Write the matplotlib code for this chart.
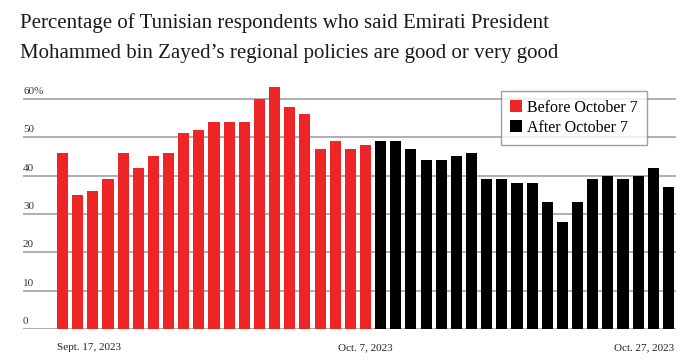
import numpy as np
import matplotlib
matplotlib.use("Agg")
import matplotlib.pyplot as plt
from matplotlib.patches import Patch

plt.rcParams['font.family'] = ['Liberation Serif', 'DejaVu Serif']

# values (percent)
before_vals = [46, 35, 36, 39, 46, 42, 45, 46, 51, 52, 54, 54, 54, 60, 63, 58, 56, 47, 49, 47, 48]
after_vals = [49, 49, 47, 44, 44, 45, 46, 39, 39, 38, 38, 33, 28, 33, 39, 40, 39, 40, 42, 37]
y_ticks = [0, 10, 20, 30, 40, 50, 60]
y_labels = ['0', '10', '20', '30', '40', '50', '60%']
date_labels = ['Sept. 17, 2023', 'Oct. 7, 2023', 'Oct. 27, 2023']

red = '#ee2527'
W, H = 700, 363
fig = plt.figure(figsize=(W / 100, H / 100), dpi=100)

# axes placed in pixel terms
left_px, right_px = 23, 676
zero_px, top60_px = 329, 99
unit = (zero_px - top60_px) / 60.0
ax = fig.add_axes([left_px / W, (H - zero_px) / H, (right_px - left_px) / W, 66 * unit / H])
ax.set_ylim(0, 66)

bw = 0.73
n_b = len(before_vals)
n_a = len(after_vals)
xb = np.arange(n_b)
xa = np.arange(n_b, n_b + n_a)
ax.bar(xb, before_vals, width=bw, color=red, linewidth=0, zorder=2)
ax.bar(xa, after_vals, width=bw, color='black', linewidth=0, zorder=2)

# x range so first bar starts at 57px and last bar ends at 674px
scale = (674 - 57) / (n_b + n_a - 1 + bw)
x0 = -bw / 2 - (57 - left_px) / scale
x1 = x0 + (right_px - left_px) / scale
ax.set_xlim(x0, x1)

for v in y_ticks:
    ax.axhline(v, color='#9a9a9a', lw=1.1, zorder=1)
for v, lab in zip(y_ticks, y_labels):
    ax.text(x0, v + 0.8, lab, fontsize=8, color='#333333', ha='left', va='bottom')

for s in ax.spines.values():
    s.set_visible(False)
ax.set_xticks([])
ax.set_yticks([])

# date labels
yl = -4.8
ax.text(-bw / 2, yl, date_labels[0], fontsize=8, color='#222222', ha='left', va='center')
ax.text(n_b - 1, yl, date_labels[1], fontsize=8, color='#222222', ha='center', va='center')
ax.text(n_b + n_a - 1 + bw / 2, yl, date_labels[2], fontsize=8, color='#222222', ha='right', va='center')

# legend
handles = [Patch(facecolor=red, label='Before October 7'), Patch(facecolor='black', label='After October 7')]
leg = fig.legend(handles=handles, loc='upper left', bbox_to_anchor=(501 / W, 1 - 91 / H),
                 fontsize=11.5, frameon=True, fancybox=False, edgecolor='#888888',
                 handlelength=0.75, handleheight=0.75, handletextpad=0.35,
                 borderpad=0.55, labelspacing=0.25, borderaxespad=0)
leg.get_frame().set_linewidth(1.0)

# title
fig.text(20 / W, 1 - 28 / H, 'Percentage of Tunisian respondents who said Emirati President',
         fontsize=15, color='#1a1a1a', ha='left', va='baseline')
fig.text(20 / W, 1 - 58 / H, 'Mohammed bin Zayed\u2019s regional policies are good or very good',
         fontsize=15, color='#1a1a1a', ha='left', va='baseline')

fig.savefig('out.png', dpi=100)
